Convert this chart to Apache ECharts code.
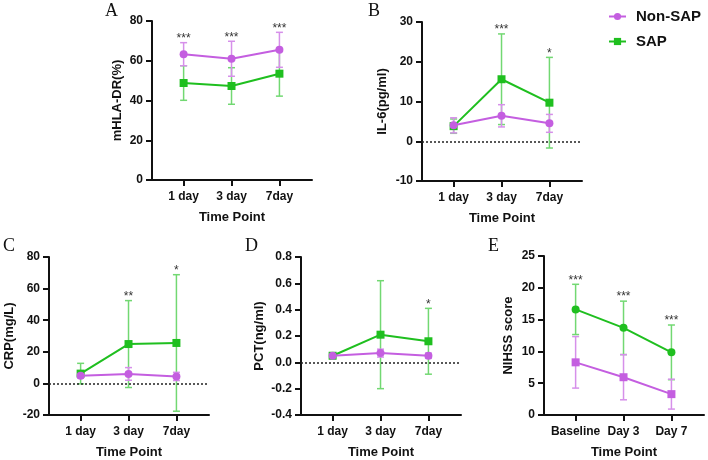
<!DOCTYPE html>
<html>
<head>
<meta charset="utf-8">
<script src="https://cdn.jsdelivr.net/npm/echarts@6/dist/echarts.min.js"></script>
<style>html,body{margin:0;padding:0;background:#fff}#chart{width:708px;height:460px}</style>
</head>
<body>
<div id="chart"></div>
<script>
// ---- data ----
const dayLabels = ['1 day', '3 day', '7day'];
const nihssLabels = ['Baseline', 'Day 3', 'Day 7'];
const panelLetters = ['A', 'B', 'C', 'D', 'E'];
const yTitles = ['mHLA-DR(%)', 'IL-6(pg/ml)', 'CRP(mg/L)', 'PCT(ng/ml)', 'NIHSS score'];
const yMin = [0, -10, -20, -0.4, 0];
const yMax = [80, 30, 80, 0.8, 25];
const yStep = [20, 10, 20, 0.2, 5];

const aNonSapMean = [63.3, 61.0, 65.5];
const aNonSapSd = [5.8, 8.8, 8.8];
const aSapMean = [48.8, 47.3, 53.5];
const aSapSd = [8.7, 9.2, 11.3];

const bNonSapMean = [4.0, 6.4, 4.5];
const bNonSapSd = [1.9, 2.8, 2.25];
const bSapMean = [3.8, 15.6, 9.7];
const bSapSd = [1.8, 11.4, 11.4];

const cNonSapMean = [4.8, 6.0, 4.4];
const cNonSapSd = [1.5, 4.0, 2.6];
const cSapMean = [6.2, 24.9, 25.6];
const cSapSd = [6.5, 27.5, 43.2];

const dNonSapMean = [0.05, 0.07, 0.05];
const dNonSapSd = [0.01, 0.03, 0.02];
const dSapMean = [0.05, 0.21, 0.16];
const dSapSd = [0.01, 0.41, 0.25];

const eNonSapMean = [8.28, 5.94, 3.28];
const eNonSapSd = [4.05, 3.55, 2.35];
const eSapMean = [16.6, 13.7, 9.85];
const eSapSd = [3.95, 4.2, 4.3];

const starsA = ['***', '***', '***'];
const starsB = ['', '***', '*'];
const starsC = ['', '**', '*'];
const starsD = ['', '', '*'];
const starsE = ['***', '***', '***'];

// ---- build ----
const FONT = 'Liberation Sans, Arial, sans-serif';
const PURPLE = '#c45ee0', PURPLE_ERR = '#d690ea';
const GREEN = '#1fbf1f', GREEN_ERR = '#72d872';
const INK = '#111';

const panels = [
  {cats: dayLabels, ns: [aNonSapMean, aNonSapSd], s: [aSapMean, aSapSd], stars: starsA, zero: false, nsSym: 'circle', sSym: 'rect'},
  {cats: dayLabels, ns: [bNonSapMean, bNonSapSd], s: [bSapMean, bSapSd], stars: starsB, zero: true, nsSym: 'circle', sSym: 'rect'},
  {cats: dayLabels, ns: [cNonSapMean, cNonSapSd], s: [cSapMean, cSapSd], stars: starsC, zero: true, nsSym: 'circle', sSym: 'rect'},
  {cats: dayLabels, ns: [dNonSapMean, dNonSapSd], s: [dSapMean, dSapSd], stars: starsD, zero: true, nsSym: 'circle', sSym: 'rect'},
  {cats: nihssLabels, ns: [eNonSapMean, eNonSapSd], s: [eSapMean, eSapSd], stars: starsE, zero: false, nsSym: 'rect', sSym: 'circle'}
];

const gridPos = [
  {left: 152, top: 21, width: 160, height: 159},
  {left: 422, top: 22, width: 160, height: 159},
  {left: 49, top: 257, width: 160, height: 158},
  {left: 301, top: 257, width: 160, height: 159},
  {left: 544, top: 256, width: 160, height: 159}
];
const yNameGap = [28, 33, 33, 35, 29];
const letterPos = [[105, 2], [368, 2], [3, 237], [245, 237], [488, 237]];

function fmtY(i) {
  return function (v) {
    if (i === 3) { if (Math.abs(v) < 1e-9) return '0.0'; return v.toFixed(1); }
    return String(Math.round(v));
  };
}

const grids = [], xAxes = [], yAxes = [], series = [], graphics = [];

panels.forEach((p, gi) => {
  grids.push(Object.assign({containLabel: false}, gridPos[gi]));
  xAxes.push({
    type: 'value', gridIndex: gi, min: -0.66, max: 2.68,
    name: 'Time Point', nameLocation: 'middle', nameGap: 31,
    nameTextStyle: {fontFamily: FONT, fontWeight: 'bold', fontSize: 13, color: INK},
    axisLine: {onZero: false, lineStyle: {color: INK, width: 2}},
    axisTick: {show: true, length: 6, lineStyle: {color: INK, width: 2}, customValues: [0, 1, 2]},
    axisLabel: {customValues: [0, 1, 2], margin: 11, fontFamily: FONT, fontWeight: 'bold', fontSize: 12, color: INK,
      formatter: v => p.cats[Math.round(v)]},
    splitLine: {show: false}
  });
  yAxes.push({
    type: 'value', gridIndex: gi, min: yMin[gi], max: yMax[gi], interval: yStep[gi],
    name: yTitles[gi], nameLocation: 'middle', nameGap: yNameGap[gi],
    nameTextStyle: {fontFamily: FONT, fontWeight: 'bold', fontSize: 13, color: INK},
    axisLine: {show: true, onZero: false, lineStyle: {color: INK, width: 2}},
    axisTick: {show: true, length: 6, lineStyle: {color: INK, width: 2}},
    axisLabel: {margin: 9, fontFamily: FONT, fontWeight: 'bold', fontSize: 12, color: INK, formatter: fmtY(gi)},
    splitLine: {show: false}
  });

  const errSeries = (mean, sd, color, z) => ({
    type: 'custom', xAxisIndex: gi, yAxisIndex: gi, z: z, silent: true,
    data: mean.map((m, i) => [i, m - sd[i], m + sd[i]]),
    encode: {x: 0, y: [1, 2]},
    renderItem: function (params, api) {
      const x = api.value(0);
      const lo = api.coord([x, api.value(1)]);
      const hi = api.coord([x, api.value(2)]);
      const hw = 3.5;
      const st = {stroke: color, lineWidth: 1.5};
      return {type: 'group', children: [
        {type: 'line', shape: {x1: lo[0], y1: lo[1], x2: hi[0], y2: hi[1]}, style: st},
        {type: 'line', shape: {x1: lo[0] - hw, y1: lo[1], x2: lo[0] + hw, y2: lo[1]}, style: st},
        {type: 'line', shape: {x1: hi[0] - hw, y1: hi[1], x2: hi[0] + hw, y2: hi[1]}, style: st}
      ]};
    }
  });

  series.push(errSeries(p.s[0], p.s[1], GREEN_ERR, 2));
  series.push(errSeries(p.ns[0], p.ns[1], PURPLE_ERR, 3));

  const sapLine = {
    name: 'SAP', type: 'line', xAxisIndex: gi, yAxisIndex: gi, z: 4,
    data: p.s[0].map((m, i) => [i, m]),
    symbol: p.sSym, symbolSize: 8, showSymbol: true,
    lineStyle: {color: GREEN, width: 2}, itemStyle: {color: GREEN},
    animation: false
  };
  if (p.zero) {
    sapLine.markLine = {
      silent: true, symbol: ['none', 'none'], label: {show: false},
      lineStyle: {color: '#222', width: 1.5, type: [2, 2]},
      data: [{yAxis: 0}], animation: false
    };
  }
  const nsLine = {
    name: 'Non-SAP', type: 'line', xAxisIndex: gi, yAxisIndex: gi, z: 5,
    data: p.ns[0].map((m, i) => [i, m]),
    symbol: p.nsSym, symbolSize: 8, showSymbol: true,
    lineStyle: {color: PURPLE, width: 2}, itemStyle: {color: PURPLE},
    animation: false
  };
  series.push(sapLine);
  series.push(nsLine);

  // significance stars above the highest error bar
  const tops = p.cats.map((c, i) => Math.max(p.s[0][i] + p.s[1][i], p.ns[0][i] + p.ns[1][i]));
  series.push({
    type: 'custom', xAxisIndex: gi, yAxisIndex: gi, z: 6, silent: true,
    data: tops.map((t, i) => [i, t]),
    encode: {x: 0, y: 1},
    renderItem: function (params, api) {
      const pt = api.coord([api.value(0), api.value(1)]);
      const txt = p.stars[params.dataIndex];
      if (!txt) return null;
      return {type: 'text', x: pt[0], y: pt[1] + 2, style: {
        text: txt, align: 'center', verticalAlign: 'bottom',
        font: '12px ' + FONT, fill: '#333'
      }};
    }
  });

  graphics.push({type: 'text', left: letterPos[gi][0], top: letterPos[gi][1],
    style: {text: panelLetters[gi], font: '18px "Liberation Serif", "Times New Roman", serif', fill: INK}});
});

const chart = echarts.init(document.getElementById('chart'), null, {renderer: 'canvas'});
chart.setOption({
  animation: false,
  backgroundColor: '#fff',
  grid: grids, xAxis: xAxes, yAxis: yAxes, series: series,
  graphic: graphics,
  legend: {
    orient: 'vertical', left: 608, top: 9, padding: 0, itemWidth: 17, itemHeight: 9, itemGap: 10,
    data: ['Non-SAP', 'SAP'],
    textStyle: {fontFamily: FONT, fontWeight: 'bold', fontSize: 15, color: INK, padding: [0, 0, 0, 5]}
  }
});
</script>
</body>
</html>
